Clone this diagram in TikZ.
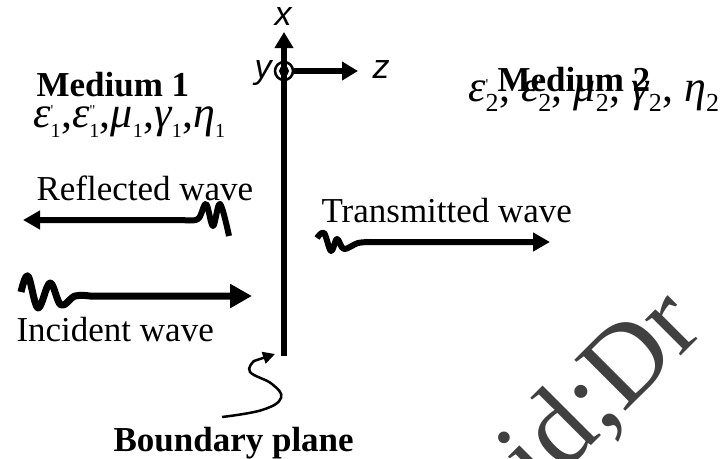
\documentclass[tikz,border=0pt]{standalone}
\usepackage{fix-cm}
\usepackage{amsmath}
\usepackage{fontspec}
\setmainfont{Liberation Serif}
\newfontfamily\axisfont{Liberation Sans}
\usetikzlibrary{arrows.meta}

\definecolor{wmgray}{HTML}{404040}
\newcommand{\gk}[1]{\text{\itshape #1}}
\newcommand{\ssz}[2]{\text{\fontsize{#1}{#1}\selectfont #2}}
\newcommand{\prm}[1]{\raisebox{-0.1em}{\ssz{15}{#1}}}

\tikzset{
  lbl/.style={anchor=base west, font=\fontsize{35}{40}\selectfont},
  boldlbl/.style={anchor=base west, font=\fontsize{35}{40}\selectfont\bfseries},
  params/.style={anchor=base west, font=\fontsize{44}{48}\selectfont},
  axlbl/.style={anchor=base, font=\axisfont\itshape\fontsize{34}{38}\selectfont},
  wave/.style={line width=6pt, line join=round, -{Triangle[length=17pt,width=18pt]}},
  axisarrow/.style={line width=6pt, -{Triangle[length=16pt,width=18pt]}},
  pointer/.style={line width=2.5pt, -{Triangle[length=12pt,width=12pt]}},
}

\begin{document}
\begin{tikzpicture}[x=1pt, y=-1pt]
	\useasboundingbox (0,0) rectangle (722,458);
	\clip (0,0) rectangle (722,458);

	% Watermark
	\node[rotate=45, anchor=base west, inner sep=0pt, text=wmgray, font=\fontsize{110}{114}\selectfont] (wmark) at (507,530) {aid;Dr};

	% Axes
	\coordinate (origin) at (284,71);
	\coordinate (x-tip) at (284,32);
	\coordinate (z-tip) at (358,71);
	\coordinate (plane-end) at (284,356);
	\draw[line width=2.5pt] (origin) circle (9);
	\fill (origin) circle (5);
	\draw[axisarrow] ([yshift=-10pt]origin) -- (x-tip);
	\draw[axisarrow] ([xshift=10pt]origin) -- (z-tip);
	\node[axlbl] (xlbl) at (283,25) {x};
	\node[axlbl] (ylbl) at (263,78) {y};
	\node[axlbl] (zlbl) at (381,78) {z};

	% Boundary plane
	\draw[line width=6pt] ([yshift=10pt]origin) -- (plane-end);

	% Media
	\node[boldlbl] (med1) at (33,96) {Medium 1};
	\node[params, inner sep=0pt] (par1) at (33,127)
		{$\gk{ε}_{\ssz{20}{1}}^{\prm{\textquotesingle}}\text{,}\gk{ε}_{\ssz{20}{1}}^{\prm{\textquotedbl}}\text{,}\gk{μ}_{\ssz{20}{1}}\text{,}\gk{γ}_{\ssz{20}{1}}\text{,}\gk{η}_{\ssz{20}{1}}$};
	\node[params, inner sep=0pt] (par2) at (468,101)
		{$\gk{ε}_{\ssz{26}{2}}^{\prm{\textquotesingle}}\text{, }\gk{ε}_{\ssz{26}{2}}^{\prm{\textquotedbl}}\text{, }\gk{μ}_{\ssz{26}{2}}\text{, }\gk{γ}_{\ssz{26}{2}}\text{, }\gk{η}_{\ssz{26}{2}}$};
	\node[boldlbl] (med2) at (494,91) {Medium 2};

	% Waves
	\node[lbl] (refl) at (33,200) {Reflected wave};
	\coordinate (refl-tip) at (23,220);
	\draw[wave] plot[smooth, tension=0.6] coordinates {(229,236) (220,204) (213,226) (206,204) (198,219) (183,220)} -- (refl-tip);

	\node[lbl] (trans) at (318,222) {Transmitted wave};
	\coordinate (trans-tip) at (550,242);
	\draw[wave] plot[smooth, tension=0.6] coordinates {(317,238) (324,233) (331,251) (337,239) (344,249) (358,243) (372,242)} -- (trans-tip);

	\node[lbl] (inc) at (13,341) {Incident wave};
	\coordinate (inc-tip) at (252,296);
	\draw[wave, line width=7pt, -{Triangle[length=22pt,width=23pt]}] plot[smooth, tension=0.6] coordinates {(21,292) (28,276) (38,308) (50,283) (61,305) (75,296) (90,296)} -- (inc-tip);

	% Label of the plane
	\node[boldlbl] (bnd) at (110,451) {Boundary plane};
	\coordinate (bnd-tip) at (275,354);
	\draw[pointer] plot[smooth, tension=0.7] coordinates {(222,417) (262,410) (281,398) (272,384) (250,372) (254,361)} -- (bnd-tip);
\end{tikzpicture}
\end{document}
